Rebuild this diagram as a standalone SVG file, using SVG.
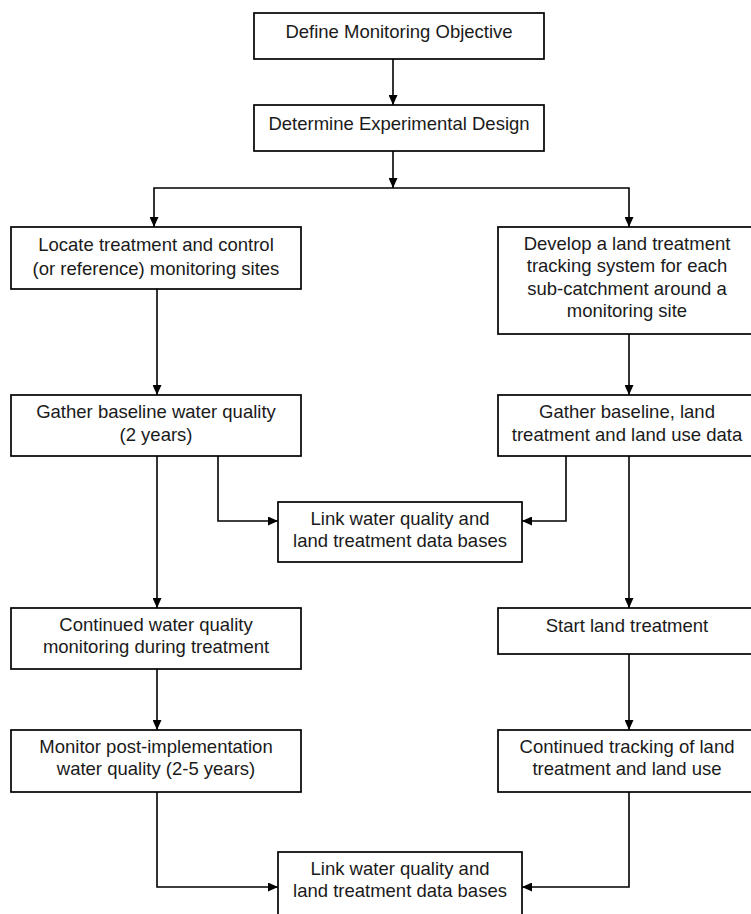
<svg xmlns="http://www.w3.org/2000/svg" width="751" height="914" viewBox="0 0 751 914">
<style>
.box{fill:#fff;stroke:#000;stroke-width:1.7}
.t{font-family:"Liberation Sans",Arial,sans-serif;font-size:18.5px;fill:#1a1a1a;text-anchor:middle}
.c{fill:none;stroke:#000;stroke-width:1.6}
</style>
<defs>
<marker id="ah" markerUnits="userSpaceOnUse" markerWidth="10" markerHeight="9" refX="10" refY="4.5" orient="auto">
<path d="M0,0 L10,4.5 L0,9 z" fill="#000"/>
</marker>
</defs>
<rect width="751" height="914" fill="#fff"/>
<g id="connectors">
<path class="c" d="M393,59 V105" marker-end="url(#ah)"/>
<path class="c" d="M393,151 V188" marker-end="url(#ah)"/>
<path class="c" d="M393,188 H154 V227" marker-end="url(#ah)"/>
<path class="c" d="M393,188 H629 V227" marker-end="url(#ah)"/>
<path class="c" d="M157,289 V395" marker-end="url(#ah)"/>
<path class="c" d="M629,334 V395" marker-end="url(#ah)"/>
<path class="c" d="M157,456 V608" marker-end="url(#ah)"/>
<path class="c" d="M218,456 V521 H278" marker-end="url(#ah)"/>
<path class="c" d="M566,456 V521 H522" marker-end="url(#ah)"/>
<path class="c" d="M629,456 V608" marker-end="url(#ah)"/>
<path class="c" d="M157,669 V730" marker-end="url(#ah)"/>
<path class="c" d="M629,654 V730" marker-end="url(#ah)"/>
<path class="c" d="M157,792 V887 H278" marker-end="url(#ah)"/>
<path class="c" d="M629,792 V887 H522" marker-end="url(#ah)"/>
</g>
<g id="n1"><rect class="box" x="254" y="13" width="290" height="46"/><text class="t" x="399" y="38">Define Monitoring Objective</text></g>
<g id="n2"><rect class="box" x="254" y="105" width="290" height="46"/><text class="t" x="399" y="130">Determine Experimental Design</text></g>
<g id="n3"><rect class="box" x="11" y="227" width="290" height="62"/><text class="t" x="156" y="251">Locate treatment and control</text><text class="t" x="156" y="275">(or reference) monitoring sites</text></g>
<g id="n4"><rect class="box" x="498" y="227" width="262" height="107"/><text class="t" x="627" y="250">Develop a land treatment</text><text class="t" x="627" y="272">tracking system for each</text><text class="t" x="627" y="295">sub-catchment around a</text><text class="t" x="627" y="317">monitoring site</text></g>
<g id="n5"><rect class="box" x="11" y="395" width="290" height="61"/><text class="t" x="156" y="418">Gather baseline water quality</text><text class="t" x="156" y="441">(2 years)</text></g>
<g id="n6"><rect class="box" x="498" y="395" width="262" height="61"/><text class="t" x="627" y="418">Gather baseline, land</text><text class="t" x="627" y="441">treatment and land use data</text></g>
<g id="n7"><rect class="box" x="278" y="502" width="244" height="60"/><text class="t" x="400" y="525">Link water quality and</text><text class="t" x="400" y="547">land treatment data bases</text></g>
<g id="n8"><rect class="box" x="11" y="608" width="290" height="61"/><text class="t" x="156" y="631">Continued water quality</text><text class="t" x="156" y="653">monitoring during treatment</text></g>
<g id="n9"><rect class="box" x="498" y="608" width="262" height="46"/><text class="t" x="627" y="632">Start land treatment</text></g>
<g id="n10"><rect class="box" x="11" y="730" width="290" height="62"/><text class="t" x="156" y="753">Monitor post-implementation</text><text class="t" x="156" y="775">water quality (2-5 years)</text></g>
<g id="n11"><rect class="box" x="498" y="730" width="262" height="62"/><text class="t" x="627" y="753">Continued tracking of land</text><text class="t" x="627" y="775">treatment and land use</text></g>
<g id="n12"><rect class="box" x="278" y="852" width="244" height="70"/><text class="t" x="400" y="875">Link water quality and</text><text class="t" x="400" y="897">land treatment data bases</text></g>
</svg>
